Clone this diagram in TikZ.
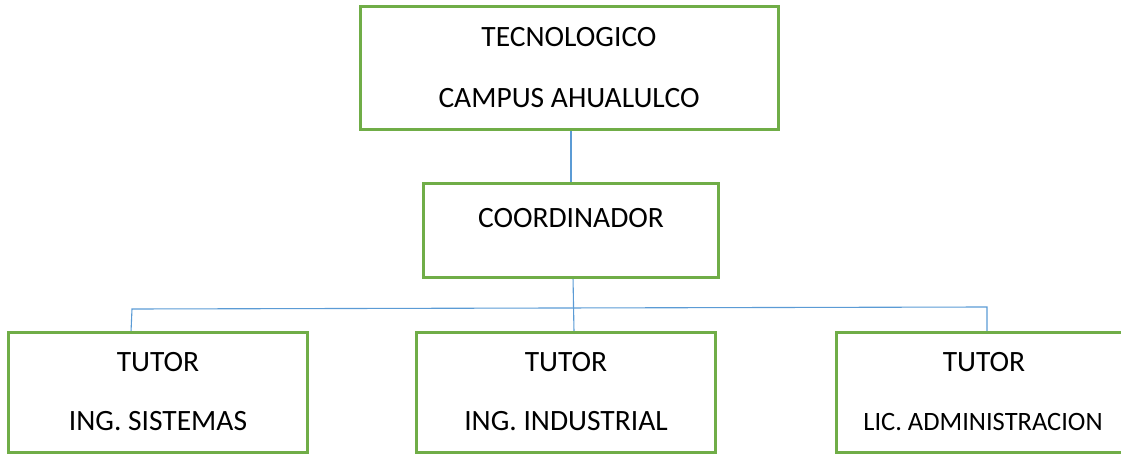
\documentclass[tikz,border=0pt]{standalone}
\usepackage{fontspec}
\setmainfont{Carlito}
\begin{document}
\begin{tikzpicture}[x=1pt,y=-1pt,
  box/.style={draw=boxgreen,line width=3pt,fill=white},
  conn/.style={draw=linkblue,line width=1.1pt},
  lbl/.style={anchor=base,inner sep=0pt,font=\fontsize{29.5}{31}\selectfont},
  lblsmall/.style={anchor=base,inner sep=0pt,font=\fontsize{26.5}{28}\selectfont}]
\definecolor{boxgreen}{HTML}{70AD47}
\definecolor{linkblue}{HTML}{5B9BD5}
\useasboundingbox (0,0) rectangle (1121,454);
\clip (0,0) rectangle (1121,454);
% connectors
\coordinate (bL) at (132,309);
\coordinate (bM) at (574,308);
\coordinate (bR) at (987,307);
\coordinate (tc) at (571,130);
\coordinate (cc) at (571,184);
\coordinate (cs) at (573,277);
\coordinate (ms) at (574,332);
\coordinate (ls) at (131,332);
\coordinate (rs) at (987,332);
\draw[conn] (tc) -- (cc);
\draw[conn] (cs) -- (ms);
\draw[conn] (ls) -- (bL) -- (bR) -- (rs);
% boxes
\draw[box] (360,7) rectangle (778,130) node[pos=0.5,inner sep=0pt] (top) {};
\draw[box] (423,184) rectangle (718,277) node[pos=0.5,inner sep=0pt] (coord) {};
\draw[box] (8,332) rectangle (307,452) node[pos=0.5,inner sep=0pt] (left) {};
\draw[box] (416,332) rectangle (715,452) node[pos=0.5,inner sep=0pt] (mid) {};
\draw[box] (836,332) rectangle (1135,452) node[pos=0.5,inner sep=0pt] (right) {};
% texts
\node[lbl] (t1) at (569,47) {TECNOLOGICO};
\node[lbl] (t2) at (569,108) {CAMPUS AHUALULCO};
\node[lbl] (c1) at (571,228) {COORDINADOR};
\node[lbl] (l1) at (158,371) {TUTOR};
\node[lbl] (l2) at (158,430) {ING. SISTEMAS};
\node[lbl] (m1) at (566,371) {TUTOR};
\node[lbl] (m2) at (566,430) {ING. INDUSTRIAL};
\node[lbl] (r1) at (984,371) {TUTOR};
\node[lblsmall] (r2) at (983,430) {LIC. ADMINISTRACION};
\end{tikzpicture}
\end{document}
